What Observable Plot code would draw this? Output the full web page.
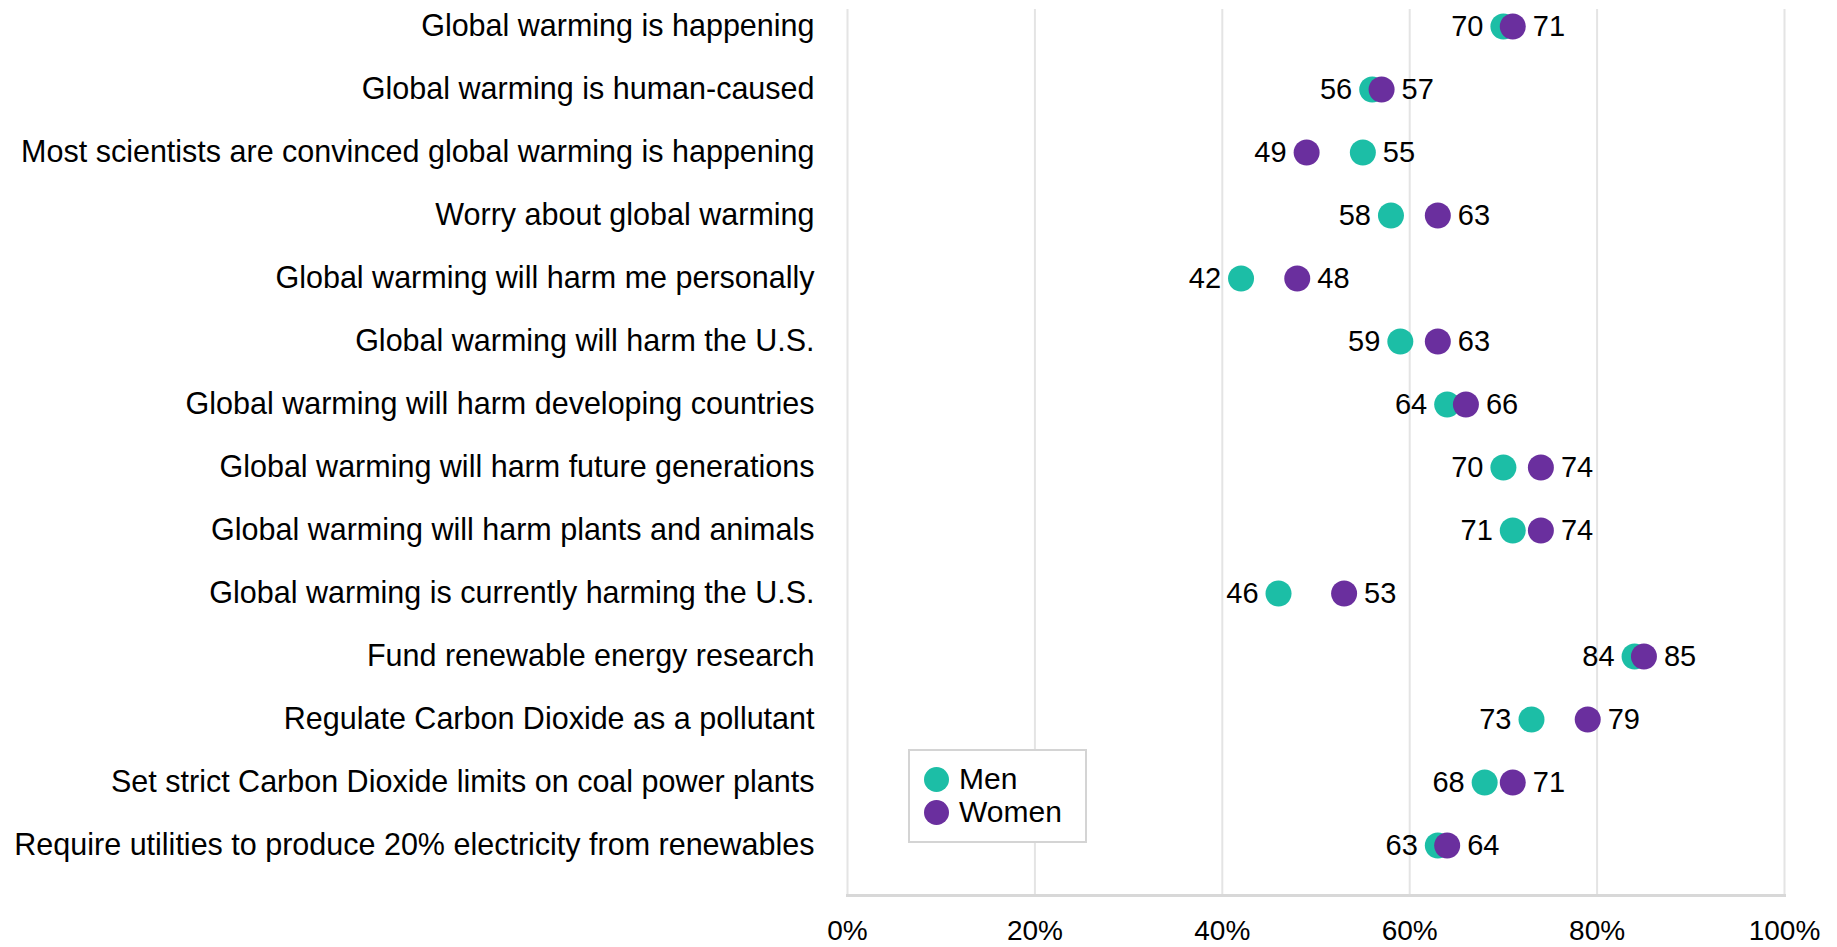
<!DOCTYPE html>
<html>
<head>
<meta charset="utf-8">
<script src="https://cdn.jsdelivr.net/npm/d3@7"></script>
<script src="https://cdn.jsdelivr.net/npm/@observablehq/plot@0.6"></script>
<style>
  html, body { margin: 0; padding: 0; background: #fff; }
  #wrap { position: relative; width: 1837px; height: 947px; font-family: 'Liberation Sans', Arial, Helvetica, sans-serif; }
  #legend { position: absolute; left: 908px; top: 749px; width: 175px; height: 90px; border: 2px solid #d4d4d4; background: #fff; }
  .lg-row { position: absolute; left: 0; display: flex; align-items: center; font-size: 30px; color: #000; }
  .lg-dot { display: inline-block; width: 25px; height: 25px; border-radius: 50%; margin-left: 14px; margin-right: 10px; }
</style>
</head>
<body>
<div id="wrap"></div>
<script>
const categories = [
  "Global warming is happening",
  "Global warming is human-caused",
  "Most scientists are convinced global warming is happening",
  "Worry about global warming",
  "Global warming will harm me personally",
  "Global warming will harm the U.S.",
  "Global warming will harm developing countries",
  "Global warming will harm future generations",
  "Global warming will harm plants and animals",
  "Global warming is currently harming the U.S.",
  "Fund renewable energy research",
  "Regulate Carbon Dioxide as a pollutant",
  "Set strict Carbon Dioxide limits on coal power plants",
  "Require utilities to produce 20% electricity from renewables"
];
const men   = [70, 56, 55, 58, 42, 59, 64, 70, 71, 46, 84, 73, 68, 63];
const women = [71, 57, 49, 63, 48, 63, 66, 74, 74, 53, 85, 79, 71, 64];
const xTicks = [0, 20, 40, 60, 80, 100];
const seriesNames = ["Men", "Women"];
const seriesColors = ["#1cbea6", "#6a2f9e"];

const rows = categories.map((c, i) => ({cat: c, men: men[i], women: women[i]}));

const chart = Plot.plot({
  width: 1837,
  height: 947,
  marginLeft: 847,
  marginRight: 53,
  marginTop: 9,
  marginBottom: 52,
  style: {fontFamily: "'Liberation Sans', Arial, Helvetica, sans-serif", fontSize: "30px", color: "#000", background: "#fff"},
  x: {domain: [0, 100]},
  y: {type: "point", domain: categories, range: [24.5, 846.7], padding: 0},
  marks: [
    Plot.gridX(xTicks, {stroke: "#e4e4e4", strokeOpacity: 1, strokeWidth: 2}),
    Plot.frame({anchor: "bottom", stroke: "#d8d8d8", strokeWidth: 3}),
    Plot.axisY({tickSize: 0, tickPadding: 33, fontSize: 30.5, label: null}),
    Plot.axisX({ticks: xTicks, tickFormat: d => d + "%", tickSize: 0, tickPadding: 25, fontSize: 28, label: null}),
    Plot.dot(rows, {x: "men", y: "cat", r: 13, fill: seriesColors[0]}),
    Plot.dot(rows, {x: "women", y: "cat", r: 13, fill: seriesColors[1]}),
    Plot.text(rows, {x: d => Math.min(d.men, d.women), y: "cat", text: d => String(Math.min(d.men, d.women)), textAnchor: "end", dx: -20, fontSize: 29, fill: "#000"}),
    Plot.text(rows, {x: d => Math.max(d.men, d.women), y: "cat", text: d => String(Math.max(d.men, d.women)), textAnchor: "start", dx: 20, fontSize: 29, fill: "#000"})
  ]
});
const wrap = document.getElementById("wrap");
wrap.appendChild(chart);

const legend = document.createElement("div");
legend.id = "legend";
seriesNames.forEach((name, i) => {
  const row = document.createElement("div");
  row.className = "lg-row";
  row.style.top = (i === 0 ? 11 : 44) + "px";
  const dot = document.createElement("span");
  dot.className = "lg-dot";
  dot.style.background = seriesColors[i];
  const label = document.createElement("span");
  label.textContent = name;
  row.appendChild(dot);
  row.appendChild(label);
  legend.appendChild(row);
});
wrap.appendChild(legend);
</script>
</body>
</html>
